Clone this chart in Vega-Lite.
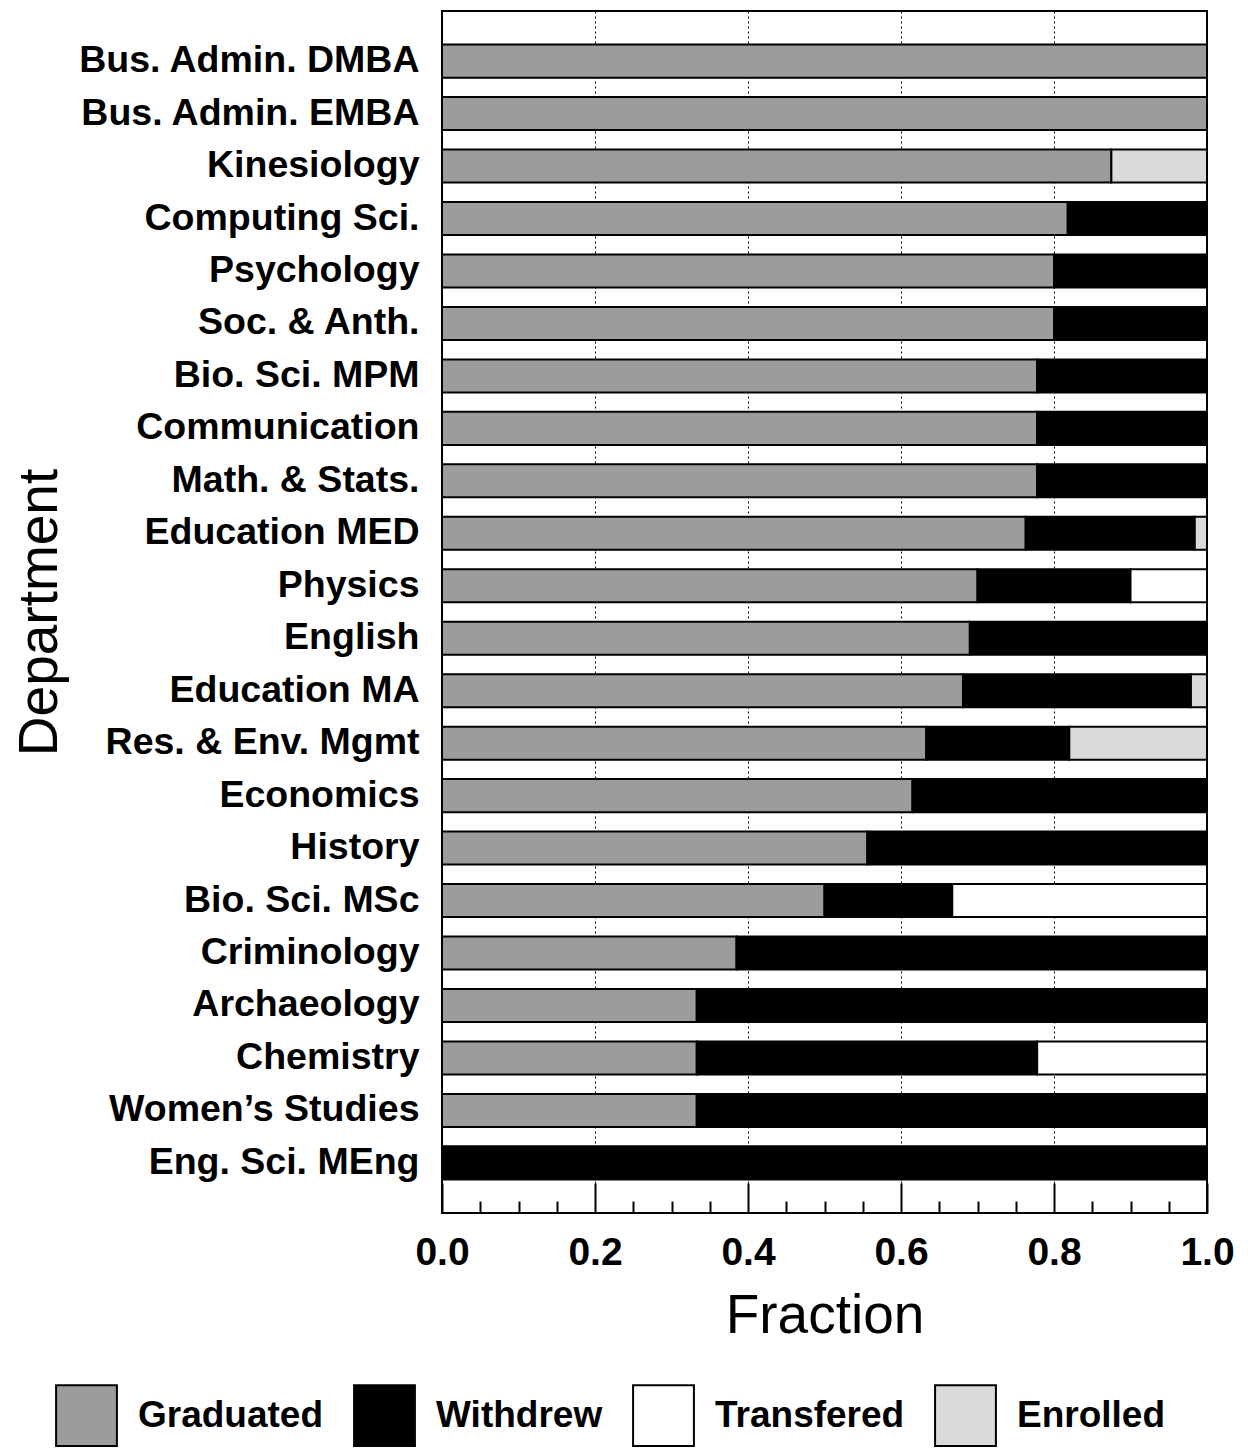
{
  "$schema": "https://vega.github.io/schema/vega-lite/v6.json",
  "width": 765,
  "height": 1202,
  "autosize": {"type": "none"},
  "padding": {"left": 442, "top": 11, "right": 41, "bottom": 235},
  "background": "white",
  "config": {
    "font": "Liberation Sans",
    "view": {"stroke": "black", "strokeWidth": 2}
  },
  "data": {
    "values": [
      {"dept": "Bus. Admin. DMBA", "status": "Graduated", "frac": 1.0},
      {"dept": "Bus. Admin. EMBA", "status": "Graduated", "frac": 1.0},
      {"dept": "Kinesiology", "status": "Graduated", "frac": 0.875},
      {"dept": "Kinesiology", "status": "Enrolled", "frac": 0.125},
      {"dept": "Computing Sci.", "status": "Graduated", "frac": 0.818},
      {"dept": "Computing Sci.", "status": "Withdrew", "frac": 0.182},
      {"dept": "Psychology", "status": "Graduated", "frac": 0.8},
      {"dept": "Psychology", "status": "Withdrew", "frac": 0.2},
      {"dept": "Soc. & Anth.", "status": "Graduated", "frac": 0.8},
      {"dept": "Soc. & Anth.", "status": "Withdrew", "frac": 0.2},
      {"dept": "Bio. Sci. MPM", "status": "Graduated", "frac": 0.778},
      {"dept": "Bio. Sci. MPM", "status": "Withdrew", "frac": 0.222},
      {"dept": "Communication", "status": "Graduated", "frac": 0.778},
      {"dept": "Communication", "status": "Withdrew", "frac": 0.222},
      {"dept": "Math. & Stats.", "status": "Graduated", "frac": 0.778},
      {"dept": "Math. & Stats.", "status": "Withdrew", "frac": 0.222},
      {"dept": "Education MED", "status": "Graduated", "frac": 0.763},
      {"dept": "Education MED", "status": "Withdrew", "frac": 0.221},
      {"dept": "Education MED", "status": "Enrolled", "frac": 0.016},
      {"dept": "Physics", "status": "Graduated", "frac": 0.7},
      {"dept": "Physics", "status": "Withdrew", "frac": 0.2},
      {"dept": "Physics", "status": "Transfered", "frac": 0.1},
      {"dept": "English", "status": "Graduated", "frac": 0.69},
      {"dept": "English", "status": "Withdrew", "frac": 0.31},
      {"dept": "Education MA", "status": "Graduated", "frac": 0.681},
      {"dept": "Education MA", "status": "Withdrew", "frac": 0.298},
      {"dept": "Education MA", "status": "Enrolled", "frac": 0.021},
      {"dept": "Res. & Env. Mgmt", "status": "Graduated", "frac": 0.633},
      {"dept": "Res. & Env. Mgmt", "status": "Withdrew", "frac": 0.187},
      {"dept": "Res. & Env. Mgmt", "status": "Enrolled", "frac": 0.18},
      {"dept": "Economics", "status": "Graduated", "frac": 0.615},
      {"dept": "Economics", "status": "Withdrew", "frac": 0.385},
      {"dept": "History", "status": "Graduated", "frac": 0.556},
      {"dept": "History", "status": "Withdrew", "frac": 0.444},
      {"dept": "Bio. Sci. MSc", "status": "Graduated", "frac": 0.5},
      {"dept": "Bio. Sci. MSc", "status": "Withdrew", "frac": 0.167},
      {"dept": "Bio. Sci. MSc", "status": "Transfered", "frac": 0.333},
      {"dept": "Criminology", "status": "Graduated", "frac": 0.385},
      {"dept": "Criminology", "status": "Withdrew", "frac": 0.615},
      {"dept": "Archaeology", "status": "Graduated", "frac": 0.333},
      {"dept": "Archaeology", "status": "Withdrew", "frac": 0.667},
      {"dept": "Chemistry", "status": "Graduated", "frac": 0.333},
      {"dept": "Chemistry", "status": "Withdrew", "frac": 0.445},
      {"dept": "Chemistry", "status": "Transfered", "frac": 0.222},
      {"dept": "Women’s Studies", "status": "Graduated", "frac": 0.333},
      {"dept": "Women’s Studies", "status": "Withdrew", "frac": 0.667},
      {"dept": "Eng. Sci. MEng", "status": "Withdrew", "frac": 1.0}
    ]
  },
  "transform": [
    {"calculate": "indexof(['Graduated','Withdrew','Transfered','Enrolled'], datum.status)", "as": "k"}
  ],
  "mark": {"type": "bar", "stroke": "black", "strokeWidth": 2},
  "encoding": {
    "y": {
      "field": "dept",
      "type": "nominal",
      "sort": null,
      "scale": {"paddingInner": 0.37, "paddingOuter": 0.64},
      "axis": {
        "title": "Department",
        "titleFontSize": 55,
        "titleFontWeight": "normal",
        "titleColor": "black",
        "titleAngle": -90,
        "titleX": -386,
        "titleY": 601,
        "titleAlign": "center",
        "titleBaseline": "alphabetic",
        "labelFontSize": 37.5,
        "labelFontWeight": "bold",
        "labelColor": "black",
        "labelPadding": 23,
        "labelLimit": 500,
        "ticks": false,
        "domain": false,
        "grid": false
      }
    },
    "x": {
      "field": "frac",
      "type": "quantitative",
      "stack": "zero",
      "scale": {"domain": [0, 1], "nice": false},
      "axis": {
        "title": "Fraction",
        "titleFontSize": 55,
        "titleFontWeight": "normal",
        "titleColor": "black",
        "titleY": 119,
        "titleBaseline": "alphabetic",
        "values": [0, 0.05, 0.1, 0.15, 0.2, 0.25, 0.3, 0.35, 0.4, 0.45, 0.5, 0.55, 0.6, 0.65, 0.7, 0.75, 0.8, 0.85, 0.9, 0.95, 1.0],
        "labelExpr": "round(datum.value*100) % 20 == 0 ? format(datum.value, '.1f') : ''",
        "labelFontSize": 39,
        "labelFontWeight": "bold",
        "labelColor": "black",
        "labelPadding": 50,
        "labelFlush": false,
        "labelOverlap": false,
        "tickColor": "black",
        "tickWidth": 2,
        "tickSize": {"condition": {"test": "round(datum.value*100) % 20 == 0", "value": -30}, "value": -12},
        "grid": true,
        "gridColor": "black",
        "gridWidth": 1,
        "gridDash": [2, 3],
        "gridOpacity": {"condition": {"test": "round(datum.value*100) % 20 == 0 && datum.value > 0.01 && datum.value < 0.99", "value": 1}, "value": 0},
        "domain": false
      }
    },
    "fill": {
      "field": "status",
      "type": "nominal",
      "scale": {
        "domain": ["Graduated", "Withdrew", "Transfered", "Enrolled"],
        "range": ["#9c9c9c", "#000000", "#ffffff", "#dadada"]
      },
      "legend": {
        "orient": "none",
        "legendX": -387,
        "legendY": 1373,
        "direction": "horizontal",
        "title": null,
        "symbolType": "square",
        "symbolSize": 3700,
        "symbolStrokeColor": "black",
        "symbolStrokeWidth": 2,
        "symbolOpacity": 1,
        "labelFontSize": 37,
        "labelFontWeight": "bold",
        "labelColor": "black",
        "labelOffset": 20,
        "labelLimit": 400,
        "columnPadding": 26,
        "padding": 0
      }
    },
    "order": {"field": "k"}
  }
}
